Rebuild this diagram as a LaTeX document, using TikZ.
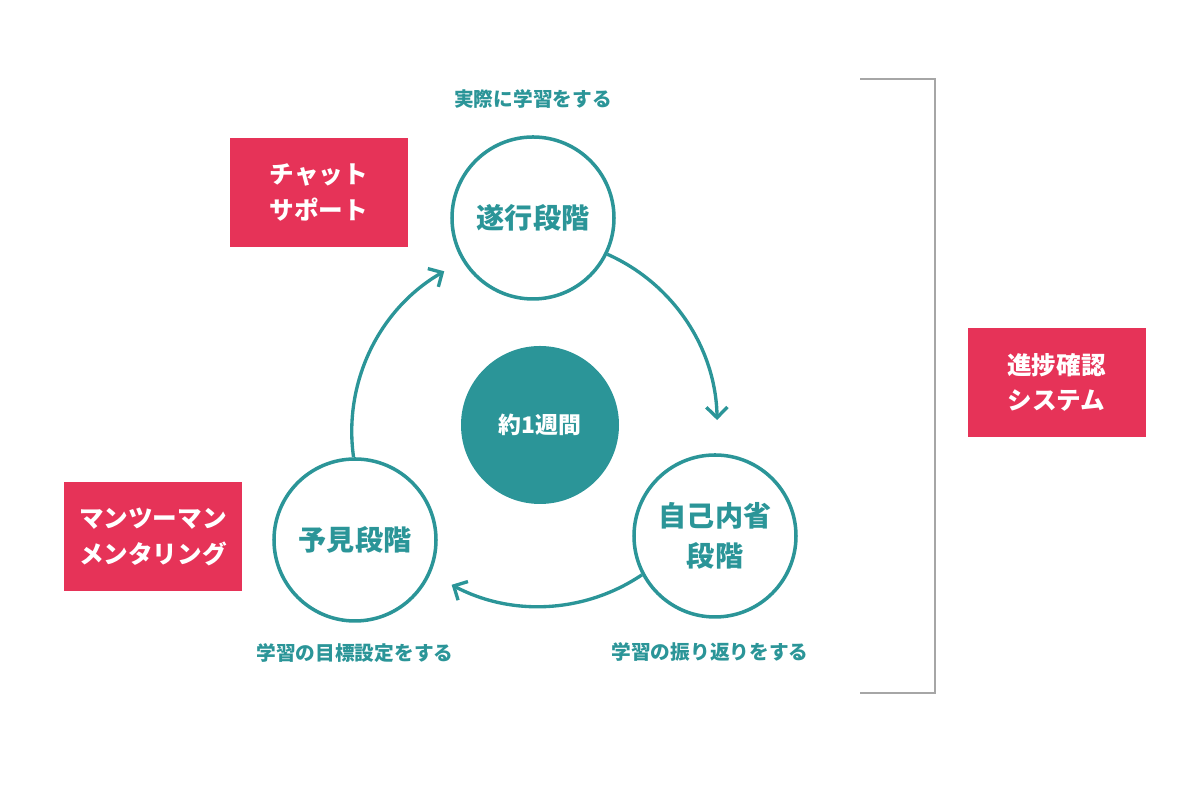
\documentclass[tikz,border=0pt]{standalone}
\usepackage{fontspec}
\setmainfont{Noto Sans CJK JP}
\usetikzlibrary{positioning,arrows.meta}
\definecolor{teal1}{HTML}{2B9598}
\definecolor{rose}{HTML}{E63358}
\begin{document}
\begin{tikzpicture}[
    stage/.style={circle,draw=teal1,line width=1pt,minimum size=1.62cm,inner sep=0pt,
        text=teal1,font=\fontsize{8}{11.4}\selectfont\bfseries,align=center},
    note/.style={inner sep=0pt,text=teal1,font=\fontsize{5.6}{6}\selectfont\bfseries},
    tool/.style={fill=rose,minimum width=1.78cm,minimum height=1.09cm,inner sep=0pt,
        text=white,font=\fontsize{7}{10}\selectfont\bfseries,align=center},
    cyc/.style={draw=teal1,line width=0.95pt,-{Straight Barb[length=3pt,width=6pt]}}]
    \useasboundingbox (0,0) rectangle (12,8);
    \coordinate (o) at (5.35,3.75);
    \node[stage] (plan) at (5.33,5.82) {遂行段階};
    \node[stage] (fore) at (3.55,2.60) {予見段階};
    \node[stage] (refl) at (7.15,2.64) {自己内省\\段階};
    \node[circle,fill=teal1,minimum size=1.58cm,text=white,
        font=\fontsize{6.5}{7}\selectfont\bfseries] (week) at (5.40,3.75) {約1週間};
    \node[note,above=0.26cm of plan] (plannote) {実際に学習をする};
    \node[note,below=0.20cm of fore] (forenote) {学習の目標設定をする};
    \node[note,below=0.23cm of refl,xshift=-0.05cm] (reflnote) {学習の振り返りをする};
    % cycle arrows, arcs round o
    \draw[cyc] (plan.-26) arc[start angle=66,end angle=1,radius=1.85];
    \draw[cyc] (refl.208) arc[start angle=-56,end angle=-118,radius=1.85];
    \draw[cyc] (fore.91) arc[start angle=188,end angle=120,radius=1.85];
    \node[tool] (chat) at (3.19,6.075) {チャット\\サポート};
    \node[tool] (mentor) at (1.53,2.63) {マンツーマン\\メンタリング};
    \node[tool] (prog) at (10.565,4.175) {進捗確認\\システム};
    \draw[gray!70,line width=0.5pt] (8.60,7.21) -- (9.35,7.21) -- (9.35,1.07) -- (8.60,1.07);
\end{tikzpicture}
\end{document}
